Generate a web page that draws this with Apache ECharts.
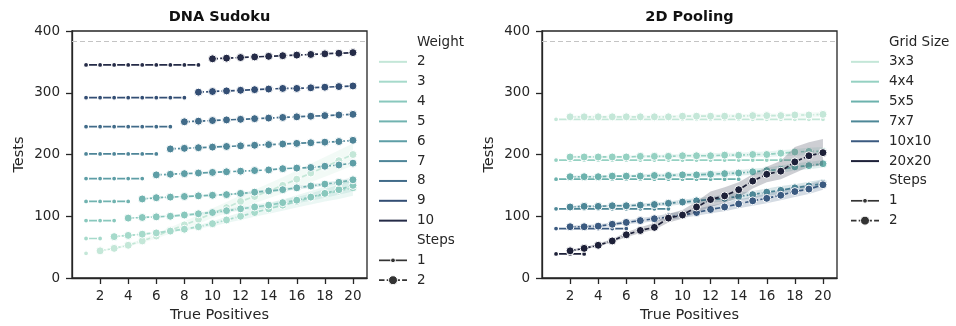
<!DOCTYPE html>
<html><head><meta charset="utf-8">
<script src="https://cdn.jsdelivr.net/npm/echarts@6/dist/echarts.min.js"></script>
<style>html,body{margin:0;padding:0;background:#fff}#c{width:956px;height:326px}</style>
</head><body><div id="c"></div>
<script>
// ---------- shared ----------
const xTicks = [2, 4, 6, 8, 10, 12, 14, 16, 18, 20];
const yTicks = [0, 100, 200, 300, 400];
const refLine = 384;
const panelTitles = ['DNA Sudoku', '2D Pooling'];
const xLabel = 'True Positives';
const yLabel = 'Tests';
const stepNames = ['1', '2'];

// ---------- DNA Sudoku ----------
const dnaWeights = ['2', '3', '4', '5', '6', '7', '8', '9', '10'];
const dnaColors = ['#c4e7d8', '#a6dacb', '#89c8bd', '#71b3b0', '#5e9ea6', '#4e8598', '#416b89', '#334e74', '#252b47'];
// step 1: x = 1 .. weight-1
const dnaStep1W2 = [40];
const dnaStep1W3 = [64, 64];
const dnaStep1W4 = [93, 93, 93];
const dnaStep1W5 = [124, 124, 124, 124];
const dnaStep1W6 = [161, 161, 161, 161, 161];
const dnaStep1W7 = [201, 201, 201, 201, 201, 201];
const dnaStep1W8 = [245, 245, 245, 245, 245, 245, 245];
const dnaStep1W9 = [292, 292, 292, 292, 292, 292, 292, 292];
const dnaStep1W10 = [345, 345, 345, 345, 345, 345, 345, 345, 345];
// step 2: x = weight .. 20
const dnaStep2W2 = [44, 48, 53, 60, 68, 77, 86, 95, 105, 114, 124, 132, 141, 150, 160, 170, 180, 190, 200];
const dnaStep2W3 = [67, 69, 71, 73, 76, 79, 83, 88, 94, 100, 106, 112, 118, 124, 130, 136, 141, 146];
const dnaStep2W4 = [97, 98, 99, 100, 102, 104, 106, 109, 112, 115, 118, 122, 126, 131, 137, 143, 150];
const dnaStep2W5 = [128, 130, 131, 132, 133, 134, 135, 137, 139, 141, 143, 146, 149, 152, 155, 159];
const dnaStep2W6 = [167, 168, 169, 170, 171, 172, 173, 174, 175, 177, 178, 179, 181, 183, 186];
const dnaStep2W7 = [209, 210, 211, 212, 213, 214, 215, 216, 217, 218, 219, 220, 221, 223];
const dnaStep2W8 = [253, 254, 255, 256, 257, 258, 259, 260, 261, 262, 263, 264, 265];
const dnaStep2W9 = [301, 302, 303, 304, 305, 306, 307, 307, 308, 309, 310, 311];
const dnaStep2W10 = [355, 356, 357, 358, 359, 360, 361, 362, 363, 364, 365];
// confidence bands (step 2)
const dnaLoW2 = [43, 46, 51, 57, 64, 72, 80, 88, 97, 105, 114, 121, 129, 137, 146, 155, 164, 173, 182];
const dnaHiW2 = [45, 50, 55, 63, 72, 82, 92, 102, 113, 123, 134, 143, 153, 163, 174, 185, 196, 207, 218];
const dnaLoW3 = [66, 68, 70, 72, 74, 77, 80, 84, 89, 94, 99, 104, 109, 114, 119, 124, 128, 133];
const dnaHiW3 = [68, 70, 72, 75, 78, 81, 86, 92, 99, 106, 113, 120, 127, 134, 141, 148, 154, 160];
const dnaLoW4 = [96, 97, 98, 99, 100, 102, 104, 106, 109, 111, 114, 117, 121, 125, 130, 135, 140];
const dnaHiW4 = [98, 99, 101, 102, 104, 106, 109, 112, 115, 119, 122, 127, 131, 137, 144, 151, 160];
const dnaLoW5 = [127, 129, 130, 131, 132, 133, 134, 135, 137, 139, 141, 143, 146, 149, 152, 155];
const dnaHiW5 = [129, 131, 132, 133, 134, 135, 136, 139, 141, 143, 145, 149, 152, 155, 158, 163];

// ---------- 2D Pooling ----------
const poolGrids = ['3x3', '4x4', '5x5', '7x7', '10x10', '20x20'];
const poolColors = ['#c4e7d8', '#95d1c2', '#6cb2ad', '#4d8797', '#3b5a80', '#1d2038'];
// step 1: x = 1 .. n
const poolStep1G3 = [257, 257, 257, 257, 257, 257, 257, 257, 257, 257, 257, 257, 257, 257, 257, 257, 257, 257, 257, 257];
const poolStep1G4 = [191, 191, 191, 191, 191, 191, 191, 191, 191, 191, 191, 191, 191, 191, 191, 191, 191, 191];
const poolStep1G5 = [160, 160, 160, 160, 160, 160, 160, 160, 160, 160, 160, 160, 160, 160];
const poolStep1G7 = [112, 112, 112, 112, 112, 112, 112, 112, 112];
const poolStep1G10 = [80, 80, 80, 80, 80, 80];
const poolStep1G20 = [39, 39, 39];
// step 2: x = 2 .. 20
const poolStep2G3 = [261, 261, 261, 261, 261, 261, 261, 261, 262, 262, 262, 262, 262, 263, 263, 263, 264, 264, 265];
const poolStep2G4 = [196, 196, 196, 196, 196, 197, 197, 197, 198, 198, 198, 199, 199, 200, 200, 202, 204, 205, 205];
const poolStep2G5 = [164, 164, 164, 165, 165, 165, 166, 166, 167, 167, 168, 169, 170, 172, 174, 176, 180, 182, 185];
const poolStep2G7 = [115, 116, 116, 117, 117, 118, 119, 121, 123, 125, 127, 129, 132, 135, 139, 142, 146, 149, 153];
const poolStep2G10 = [83, 83, 84, 87, 90, 93, 96, 99, 102, 106, 111, 115, 120, 125, 129, 134, 140, 144, 151];
const poolStep2G20 = [44, 48, 53, 60, 70, 77, 82, 97, 102, 115, 127, 133, 143, 157, 168, 173, 188, 198, 203];
// bands (step 2)
const poolLoG3 = [259, 259, 259, 259, 259, 259, 259, 259, 259, 259, 259, 259, 259, 260, 260, 260, 260, 260, 261];
const poolHiG3 = [263, 263, 263, 263, 263, 263, 263, 264, 264, 265, 265, 265, 265, 266, 266, 266, 267, 268, 269];
const poolLoG4 = [194, 194, 194, 194, 194, 195, 195, 195, 195, 195, 195, 196, 196, 196, 196, 197, 198, 199, 199];
const poolHiG4 = [198, 198, 198, 198, 198, 199, 199, 200, 201, 201, 202, 203, 203, 204, 205, 207, 209, 211, 212];
const poolLoG5 = [162, 162, 162, 163, 163, 163, 163, 163, 164, 164, 164, 165, 166, 167, 169, 170, 174, 176, 179];
const poolHiG5 = [166, 166, 166, 167, 167, 168, 169, 169, 170, 171, 172, 173, 175, 177, 179, 182, 186, 188, 191];
const poolLoG7 = [113, 114, 114, 114, 114, 115, 116, 117, 119, 120, 122, 124, 126, 129, 133, 136, 140, 143, 147];
const poolHiG7 = [117, 118, 118, 119, 120, 121, 122, 124, 127, 129, 132, 135, 138, 141, 145, 149, 152, 156, 160];
const poolLoG10 = [81, 81, 82, 84, 87, 89, 92, 94, 97, 101, 105, 108, 113, 117, 121, 126, 131, 136, 143];
const poolHiG10 = [85, 86, 87, 90, 93, 97, 100, 104, 108, 112, 117, 122, 127, 132, 137, 143, 148, 152, 159];
const poolLoG20 = [42, 46, 51, 58, 66, 73, 78, 90, 96, 106, 115, 122, 130, 145, 155, 160, 170, 180, 182];
const poolHiG20 = [46, 50, 56, 63, 74, 82, 89, 104, 110, 124, 140, 147, 155, 168, 180, 190, 212, 220, 225];

// ---------- build ----------
const dnaStep1 = [dnaStep1W2, dnaStep1W3, dnaStep1W4, dnaStep1W5, dnaStep1W6, dnaStep1W7, dnaStep1W8, dnaStep1W9, dnaStep1W10];
const dnaStep2 = [dnaStep2W2, dnaStep2W3, dnaStep2W4, dnaStep2W5, dnaStep2W6, dnaStep2W7, dnaStep2W8, dnaStep2W9, dnaStep2W10];
const dnaBands = [[dnaLoW2, dnaHiW2], [dnaLoW3, dnaHiW3], [dnaLoW4, dnaHiW4], [dnaLoW5, dnaHiW5]];
const poolStep1 = [poolStep1G3, poolStep1G4, poolStep1G5, poolStep1G7, poolStep1G10, poolStep1G20];
const poolStep2 = [poolStep2G3, poolStep2G4, poolStep2G5, poolStep2G7, poolStep2G10, poolStep2G20];
const poolBands = [[poolLoG3, poolHiG3], [poolLoG4, poolHiG4], [poolLoG5, poolHiG5], [poolLoG7, poolHiG7], [poolLoG10, poolHiG10], [poolLoG20, poolHiG20]];

const FONT = 'DejaVu Sans';
const INK = '#262626';
const chart = echarts.init(document.getElementById('c'), null, {renderer: 'canvas'});

function bandSeries(ax, x0, lo, hi, color, z) {
  const xs = lo.map((_, i) => x0 + i);
  return {
    type: 'custom', xAxisIndex: ax, yAxisIndex: ax, z: z, silent: true, clip: true,
    data: xs.map((x, i) => [x, lo[i], hi[i]]),
    encode: {x: 0, y: [1, 2]},
    renderItem: function (params, api) {
      if (params.dataIndex !== 0) return null;
      const pts = [];
      for (let i = 0; i < xs.length; i++) pts.push(api.coord([xs[i], hi[i]]));
      for (let i = xs.length - 1; i >= 0; i--) pts.push(api.coord([xs[i], lo[i]]));
      return {type: 'polygon', shape: {points: pts}, style: {fill: color, opacity: 0.22}};
    }
  };
}
function lineSeries(ax, name, x0, vals, color, step, z) {
  const big = step === 2;
  return {
    type: 'line', name: name, xAxisIndex: ax, yAxisIndex: ax, z: z, silent: true,
    data: vals.map((v, i) => [x0 + i, v]),
    showSymbol: true, showAllSymbol: true, symbol: 'circle',
    symbolSize: big ? 8 : 5,
    itemStyle: {color: color, borderColor: '#fff', borderWidth: big ? 1 : 1.2},
    lineStyle: {color: color, width: 1.7, type: big ? [5.5, 2.2] : 'solid'},
    emphasis: {disabled: true}, animation: false
  };
}

const series = [];
dnaWeights.forEach((w, i) => {
  const wn = Number(w);
  const z = 10 + i * 3;
  if (dnaBands[i]) series.push(bandSeries(0, wn, dnaBands[i][0], dnaBands[i][1], dnaColors[i], z));
  series.push(lineSeries(0, w + ' s1', 1, dnaStep1[i], dnaColors[i], 1, z + 1));
  series.push(lineSeries(0, w + ' s2', wn, dnaStep2[i], dnaColors[i], 2, z + 2));
});
poolGrids.forEach((g, i) => {
  const z = 10 + i * 3;
  series.push(bandSeries(1, 2, poolBands[i][0], poolBands[i][1], poolColors[i], z));
  series.push(lineSeries(1, g + ' s1', 1, poolStep1[i], poolColors[i], 1, z + 1));
  series.push(lineSeries(1, g + ' s2', 2, poolStep2[i], poolColors[i], 2, z + 2));
});
// reference line
[0, 1].forEach(ax => {
  series.push({
    type: 'line', xAxisIndex: ax, yAxisIndex: ax, data: [], silent: true, z: 5,
    markLine: {silent: true, symbol: 'none', label: {show: false}, animation: false,
      lineStyle: {color: '#c4c4c4', type: [5, 3], width: 1.2}, data: [{yAxis: refLine}]}
  });
});

const gridLefts = [72, 542];
const grids = gridLefts.map(l => ({left: l, top: 31, width: 295, height: 247, containLabel: false, outerBoundsMode: 'none',
  show: true, borderColor: INK, borderWidth: 1.3, backgroundColor: 'transparent'}));
const axisCommon = {
  axisLine: {show: true, onZero: false, lineStyle: {color: INK, width: 1.3}},
  axisTick: {show: true, inside: false, length: 6, lineStyle: {color: INK, width: 1.3}},
  splitLine: {show: false},
  nameLocation: 'middle',
  nameTextStyle: {fontFamily: FONT, fontSize: 14.5, color: INK}
};
const xAxes = [0, 1].map(i => Object.assign({}, axisCommon, {
  gridIndex: i, type: 'value', min: 0, max: 21, name: xLabel, nameGap: 28,
  axisTick: Object.assign({}, axisCommon.axisTick, {customValues: xTicks}),
  axisLabel: {customValues: xTicks, margin: 11, fontFamily: FONT, fontSize: 13.5, color: INK}
}));
const yAxes = [0, 1].map(i => Object.assign({}, axisCommon, {
  gridIndex: i, type: 'value', min: 0, max: 400, name: yLabel, nameGap: 45,
  axisTick: Object.assign({}, axisCommon.axisTick, {customValues: yTicks}),
  axisLabel: {customValues: yTicks, margin: 12, fontFamily: FONT, fontSize: 13.5, color: INK}
}));

// legends + titles as graphic text
const graphics = [];
function txt(x, y, s, opts) {
  graphics.push(Object.assign({type: 'text', x: x, y: y, silent: true,
    style: {text: s, fontFamily: FONT, fontSize: 13.5, fill: INK, textAlign: 'left', textVerticalAlign: 'middle'}}, opts || {}));
}
function legendBlock(x0, title, names, colors) {
  const rowH = 19.85, y0 = 42;
  const tx = x0 + 38;
  txt(tx, y0, title);
  names.forEach((n, i) => {
    const y = y0 + rowH * (i + 1);
    graphics.push({type: 'line', silent: true, shape: {x1: x0, y1: y, x2: x0 + 28, y2: y}, style: {stroke: colors[i], lineWidth: 2}});
    txt(tx, y, n);
  });
  const ys = y0 + rowH * (names.length + 1);
  txt(tx, ys, 'Steps');
  stepNames.forEach((s, k) => {
    const y = ys + rowH * (k + 1);
    graphics.push({type: 'line', silent: true, shape: {x1: x0, y1: y, x2: x0 + 28, y2: y},
      style: {stroke: '#333', lineWidth: 1.7, lineDash: k === 1 ? [5.5, 2.2] : null}});
    graphics.push({type: 'circle', silent: true, shape: {cx: x0 + 14, cy: y, r: k === 1 ? 4.5 : 2.4},
      style: {fill: '#333', stroke: '#fff', lineWidth: 1}});
    txt(tx, y, s);
  });
}
legendBlock(379, 'Weight', dnaWeights, dnaColors);
legendBlock(851, 'Grid Size', poolGrids, poolColors);
const titleX = [219.5, 689.5];
panelTitles.forEach((t, i) => txt(titleX[i], 17, t, {style: {text: t, fontFamily: FONT, fontSize: 14.5, fontWeight: 'bold', fill: '#111', textAlign: 'center', textVerticalAlign: 'middle'}}));

chart.setOption({
  animation: false,
  textStyle: {fontFamily: FONT},
  grid: grids, xAxis: xAxes, yAxis: yAxes,
  series: series,
  graphic: graphics
});
</script></body></html>
